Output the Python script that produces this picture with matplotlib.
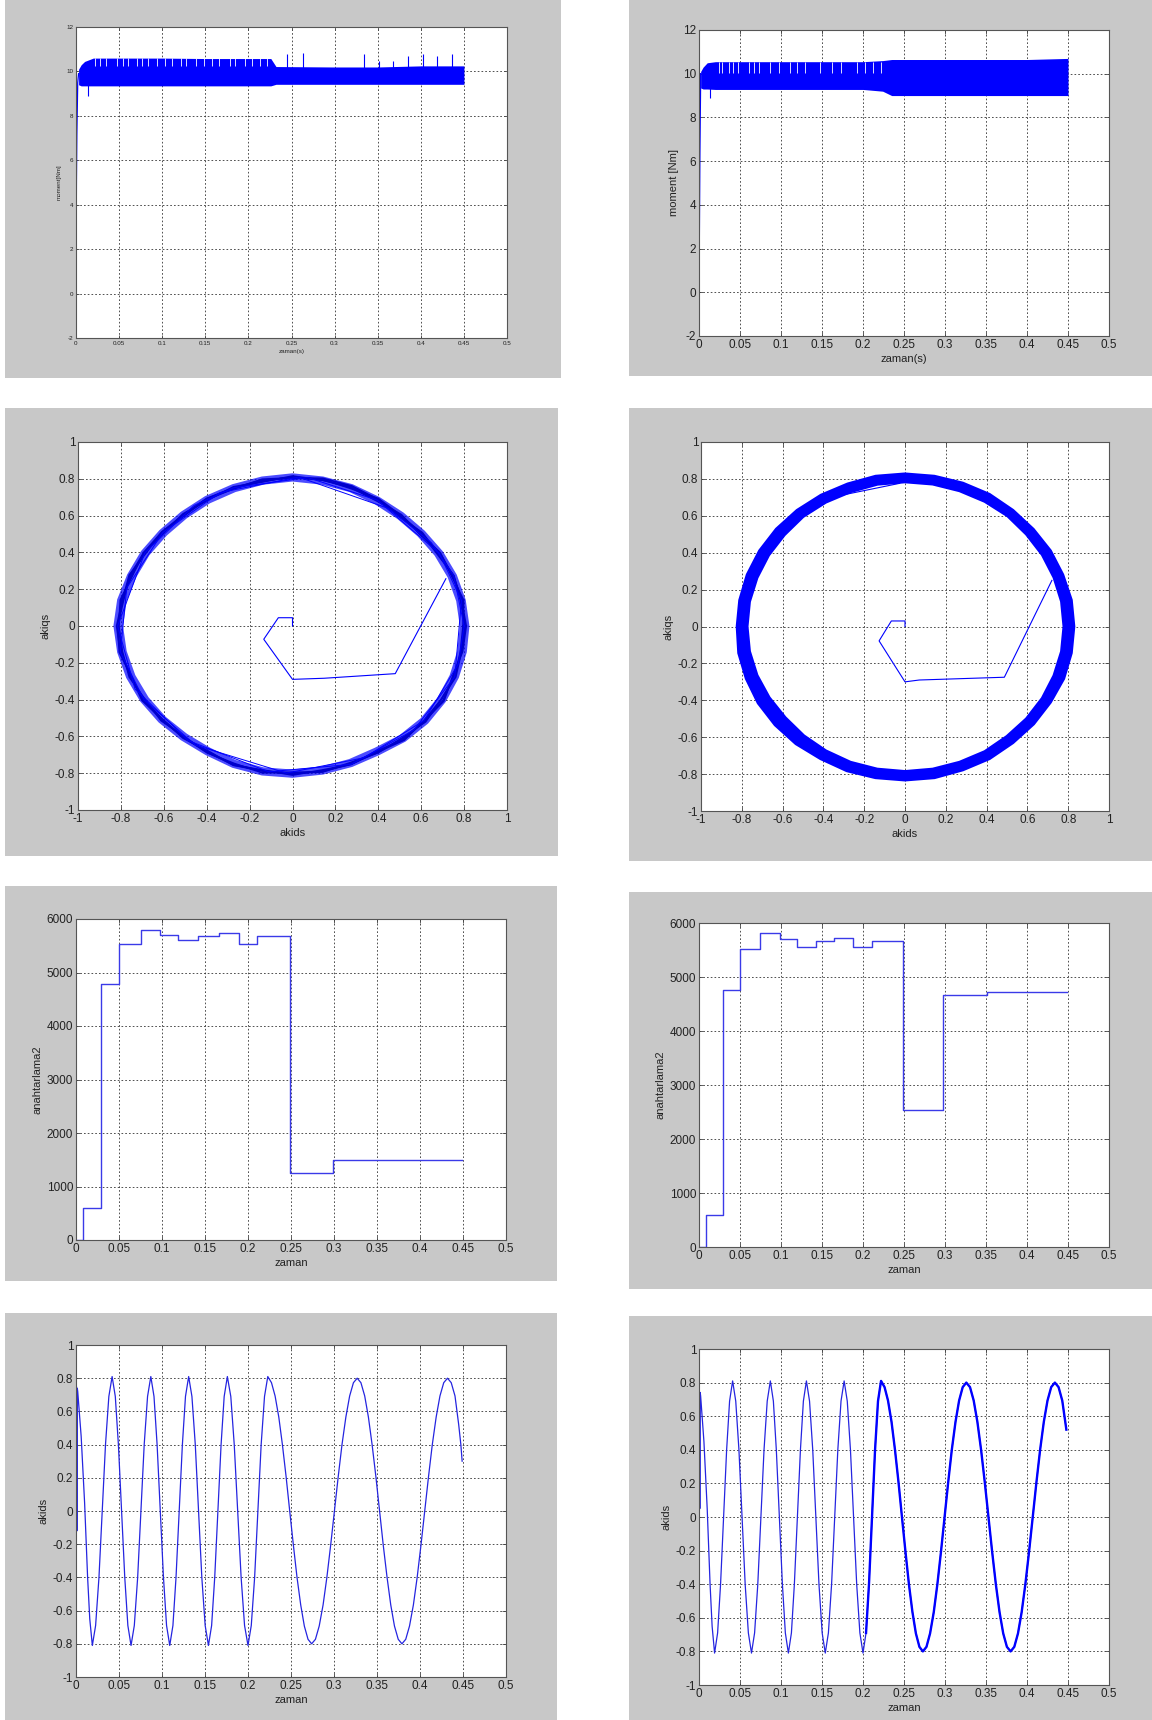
import numpy as np
import matplotlib.pyplot as plt
from matplotlib.patches import Rectangle

plt.rcParams['font.family'] = ['Liberation Sans Narrow', 'DejaVu Sans Condensed', 'Liberation Sans', 'DejaVu Sans']

BLUE = '#0000ff'
GREY = '#c8c8c8'
W, H = 1152, 1720

# ---------------- moment (torque) panels ----------------
# band envelope
tq1_t = [0.003, 0.006, 0.010, 0.020, 0.05, 0.10, 0.15, 0.20, 0.226, 0.232, 0.30, 0.35, 0.40, 0.45]
tq1_hi = [10.1, 10.3, 10.45, 10.6, 10.6, 10.6, 10.58, 10.58, 10.58, 10.22, 10.2, 10.2, 10.25, 10.25]
tq1_lo = [9.4, 9.35, 9.35, 9.35, 9.35, 9.35, 9.35, 9.35, 9.35, 9.42, 9.42, 9.42, 9.42, 9.42]
tq1_ramp_t = [0.0, 0.0005, 0.001, 0.002, 0.003]
tq1_ramp_y = [0.0, 5.0, 7.2, 9.5, 9.9]
tq1_spk_t = [0.245, 0.263, 0.334, 0.351, 0.368, 0.385, 0.402, 0.419, 0.436]
tq1_spk_y = [10.77, 10.85, 10.8, 10.46, 10.46, 10.7, 10.77, 10.7, 10.77]
tq1_dip_t = [0.014]
tq1_dip_y = [8.9]
tq1_notch_t = [0.022, 0.028, 0.035, 0.047, 0.054, 0.060, 0.071, 0.077, 0.084, 0.094, 0.103, 0.111,
               0.122, 0.128, 0.139, 0.149, 0.158, 0.166, 0.179, 0.185, 0.196, 0.204, 0.213, 0.221]

tq2_t = [0.002, 0.005, 0.010, 0.020, 0.10, 0.20, 0.224, 0.235, 0.30, 0.40, 0.45]
tq2_hi = [10.1, 10.3, 10.5, 10.55, 10.55, 10.55, 10.6, 10.65, 10.65, 10.65, 10.7]
tq2_lo = [9.35, 9.3, 9.3, 9.28, 9.28, 9.28, 9.2, 9.0, 9.0, 9.0, 9.0]
tq2_ramp_t = [0.0, 0.001, 0.002]
tq2_ramp_y = [0.3, 6.3, 10.0]
tq2_dip_t = [0.013]
tq2_dip_y = [8.9]
tq2_notch_t = [0.024, 0.028, 0.036, 0.042, 0.048, 0.061, 0.067, 0.073, 0.086, 0.098,
               0.111, 0.119, 0.129, 0.148, 0.162, 0.173, 0.193, 0.202, 0.212, 0.222]

# ---------------- flux circle panels ----------------
ring_ang = [0, 10, 20, 30, 40, 50, 60, 70, 80, 90, 100, 110, 120, 130, 140, 150, 160, 170,
            180, 190, 200, 210, 220, 230, 240, 250, 260, 270, 280, 290, 300, 310, 320, 330, 340, 350, 360]
ring1_out = [0.825, 0.82, 0.815, 0.81, 0.805, 0.805, 0.81, 0.82, 0.825, 0.83, 0.825, 0.82, 0.815, 0.81, 0.81, 0.815,
             0.82, 0.83, 0.835, 0.83, 0.825, 0.82, 0.815, 0.81, 0.81, 0.82, 0.825, 0.825, 0.82, 0.815, 0.81, 0.82,
             0.825, 0.825, 0.825, 0.825, 0.825]
ring1_in = [0.78, 0.775, 0.77, 0.765, 0.76, 0.76, 0.765, 0.775, 0.78, 0.785, 0.78, 0.775, 0.77, 0.765, 0.765, 0.77,
            0.775, 0.785, 0.79, 0.785, 0.78, 0.775, 0.77, 0.765, 0.765, 0.775, 0.78, 0.78, 0.775, 0.77, 0.765, 0.775,
            0.78, 0.78, 0.78, 0.78, 0.78]
ring1_r = [
    [0.81, 0.80, 0.80, 0.785, 0.79, 0.775, 0.795, 0.81, 0.815, 0.805, 0.81, 0.795, 0.80, 0.785, 0.795, 0.79, 0.81, 0.805,
     0.82, 0.815, 0.80, 0.81, 0.79, 0.795, 0.785, 0.805, 0.795, 0.81, 0.795, 0.80, 0.785, 0.805, 0.80, 0.815, 0.795, 0.805, 0.81],
    [0.795, 0.81, 0.79, 0.795, 0.775, 0.79, 0.785, 0.80, 0.805, 0.815, 0.795, 0.805, 0.79, 0.795, 0.785, 0.80, 0.795, 0.815,
     0.81, 0.805, 0.81, 0.795, 0.80, 0.785, 0.795, 0.795, 0.81, 0.795, 0.805, 0.79, 0.795, 0.795, 0.81, 0.80, 0.805, 0.795, 0.795],
    [0.805, 0.795, 0.80, 0.78, 0.785, 0.785, 0.80, 0.795, 0.81, 0.805, 0.805, 0.80, 0.80, 0.79, 0.795, 0.80, 0.805, 0.80,
     0.815, 0.82, 0.80, 0.805, 0.795, 0.79, 0.795, 0.80, 0.80, 0.805, 0.80, 0.80, 0.79, 0.81, 0.80, 0.80, 0.81, 0.80, 0.805],
    [0.80, 0.805, 0.795, 0.795, 0.78, 0.78, 0.79, 0.805, 0.805, 0.81, 0.80, 0.795, 0.795, 0.785, 0.79, 0.795, 0.80, 0.81,
     0.81, 0.81, 0.805, 0.80, 0.79, 0.79, 0.79, 0.805, 0.80, 0.80, 0.805, 0.795, 0.795, 0.80, 0.805, 0.81, 0.80, 0.80, 0.80],
]
# loops sampled coarsely (the straight chords)
ring1_sp_ang = [[0, 20, 35, 55, 88, 115, 140, 165, 190, 210, 235, 268, 295, 320, 345, 360],
                [10, 30, 60, 85, 110, 125, 150, 180, 205, 232, 262, 290, 315, 340, 370]]
ring1_sp_r = [[0.80, 0.80, 0.79, 0.78, 0.81, 0.80, 0.79, 0.80, 0.815, 0.80, 0.79, 0.80, 0.79, 0.80, 0.80, 0.80],
              [0.80, 0.79, 0.79, 0.81, 0.80, 0.80, 0.795, 0.815, 0.81, 0.79, 0.80, 0.80, 0.80, 0.805, 0.80]]
start1_x = [0.0, 0.0, -0.066, -0.134, 0.0, 0.147, 0.479, 0.715]
start1_y = [0.0, 0.045, 0.045, -0.072, -0.29, -0.284, -0.259, 0.257]

ring2_out = [0.835, 0.835, 0.83, 0.83, 0.828, 0.83, 0.835, 0.835, 0.835, 0.835, 0.835, 0.83, 0.83, 0.83, 0.83, 0.83,
             0.83, 0.83, 0.83, 0.835, 0.835, 0.838, 0.838, 0.838, 0.835, 0.84, 0.84, 0.84, 0.84, 0.835, 0.835, 0.83,
             0.83, 0.83, 0.835, 0.835, 0.835]
ring2_in = [0.772, 0.772, 0.77, 0.77, 0.77, 0.775, 0.775, 0.775, 0.776, 0.776, 0.775, 0.77, 0.77, 0.77, 0.765, 0.765,
            0.765, 0.767, 0.767, 0.767, 0.765, 0.762, 0.76, 0.765, 0.77, 0.775, 0.777, 0.778, 0.777, 0.775, 0.775, 0.77,
            0.77, 0.77, 0.77, 0.772, 0.772]
chord2_x = [-0.384, -0.026]
chord2_y = [0.695, 0.776]
start2_x = [0.0, 0.0, -0.067, -0.127, 0.0, 0.07, 0.487, 0.72]
start2_y = [0.0, 0.03, 0.03, -0.078, -0.30, -0.29, -0.275, 0.25]

# ---------------- switching (anahtarlama) panels ----------------
sw1_t = [0, 0.008, 0.029, 0.050, 0.076, 0.098, 0.119, 0.142, 0.166, 0.189, 0.210, 0.249, 0.299, 0.449]
sw1_v = [0, 600, 4780, 5530, 5800, 5700, 5600, 5680, 5730, 5530, 5680, 1250, 1500, 1500]
sw2_t = [0, 0.008, 0.029, 0.050, 0.074, 0.099, 0.120, 0.143, 0.165, 0.188, 0.211, 0.249, 0.298, 0.351, 0.449]
sw2_v = [0, 600, 4760, 5520, 5810, 5710, 5550, 5660, 5720, 5550, 5665, 2530, 4660, 4720, 4720]

# ---------------- akids vs time panels ----------------
akids1_t = [
    0.0, 0.0005, 0.001, 0.0015, 0.002, 0.006, 0.010, 0.0135, 0.016, 0.019,
    0.0228, 0.0267, 0.0305, 0.0343, 0.0382, 0.042,
    0.0457, 0.0493, 0.053, 0.0567, 0.0603, 0.064,
    0.0678, 0.0717, 0.0755, 0.0793, 0.0832, 0.087,
    0.0907, 0.0943, 0.098, 0.1017, 0.1053, 0.109,
    0.1127, 0.1163, 0.120, 0.1237, 0.1273, 0.131,
    0.1348, 0.1387, 0.1425, 0.1463, 0.1502, 0.154,
    0.1577, 0.1613, 0.165, 0.1687, 0.1723, 0.176,
    0.180, 0.184, 0.188, 0.192, 0.196, 0.200,
    0.2038, 0.2077, 0.2115, 0.2153, 0.2192, 0.223,
    0.2273, 0.2315, 0.2358, 0.240, 0.2443, 0.2485, 0.2528, 0.257, 0.2613, 0.2655, 0.2698, 0.274,
    0.2784, 0.2828, 0.2873, 0.2917, 0.2961, 0.3005, 0.3049, 0.3093, 0.3138, 0.3182, 0.3226, 0.327,
    0.3313, 0.3357, 0.340, 0.3443, 0.3487, 0.353, 0.3573, 0.3617, 0.366, 0.3703, 0.3747, 0.379,
    0.3834, 0.3878, 0.3923, 0.3967, 0.4011, 0.4055, 0.4099, 0.4143, 0.4188, 0.4232, 0.4276, 0.432,
    0.4363, 0.4407, 0.445, 0.4475, 0.449]
akids1_y = [
    0.0, 0.75, -0.12, 0.74, 0.72, 0.45, 0.05, -0.4, -0.65, -0.81,
    -0.69, -0.4, 0.0, 0.4, 0.69, 0.81,
    0.69, 0.4, 0.0, -0.4, -0.69, -0.81,
    -0.69, -0.4, 0.0, 0.4, 0.69, 0.81,
    0.69, 0.4, 0.0, -0.4, -0.69, -0.81,
    -0.69, -0.4, 0.0, 0.4, 0.69, 0.81,
    0.69, 0.4, 0.0, -0.4, -0.69, -0.81,
    -0.69, -0.4, 0.0, 0.4, 0.69, 0.81,
    0.69, 0.4, 0.0, -0.4, -0.69, -0.81,
    -0.69, -0.4, 0.0, 0.4, 0.69, 0.81,
    0.773, 0.693, 0.566, 0.4, 0.207, 0.0, -0.207, -0.4, -0.566, -0.693, -0.773, -0.80,
    -0.773, -0.693, -0.566, -0.4, -0.207, 0.0, 0.207, 0.4, 0.566, 0.693, 0.773, 0.80,
    0.773, 0.693, 0.566, 0.4, 0.207, 0.0, -0.207, -0.4, -0.566, -0.693, -0.773, -0.80,
    -0.773, -0.693, -0.566, -0.4, -0.207, 0.0, 0.207, 0.4, 0.566, 0.693, 0.773, 0.80,
    0.773, 0.693, 0.52, 0.40, 0.30]

akids2_t = [
    0.0, 0.0005, 0.001, 0.0015, 0.002, 0.006, 0.010, 0.0135, 0.016, 0.019,
    0.0227, 0.0263, 0.030, 0.0337, 0.0373, 0.041,
    0.0448, 0.0487, 0.0525, 0.0563, 0.0602, 0.064,
    0.0678, 0.0717, 0.0755, 0.0793, 0.0832, 0.087,
    0.0907, 0.0943, 0.098, 0.1017, 0.1053, 0.109,
    0.1127, 0.1163, 0.120, 0.1237, 0.1273, 0.131,
    0.1348, 0.1387, 0.1425, 0.1463, 0.1502, 0.154,
    0.1578, 0.1617, 0.1655, 0.1693, 0.1732, 0.177,
    0.1808, 0.1847, 0.1885, 0.1923, 0.1962, 0.200,
    0.2037, 0.2073, 0.211, 0.2147, 0.2183, 0.222,
    0.2263, 0.2305, 0.2348, 0.239, 0.2433, 0.2475, 0.2518, 0.256, 0.2603, 0.2645, 0.2688, 0.273,
    0.2774, 0.2818, 0.2863, 0.2907, 0.2951, 0.2995, 0.3039, 0.3083, 0.3128, 0.3172, 0.3216, 0.326,
    0.3305, 0.335, 0.3395, 0.344, 0.3485, 0.353, 0.3575, 0.362, 0.3665, 0.371, 0.3755, 0.380,
    0.3845, 0.389, 0.3935, 0.398, 0.4025, 0.407, 0.4115, 0.416, 0.4205, 0.425, 0.4295, 0.434,
    0.4385, 0.443, 0.448]
akids2_y = [
    0.0, 0.75, 0.05, 0.74, 0.72, 0.45, 0.05, -0.4, -0.65, -0.81,
    -0.69, -0.4, 0.0, 0.4, 0.69, 0.81,
    0.69, 0.4, 0.0, -0.4, -0.69, -0.81,
    -0.69, -0.4, 0.0, 0.4, 0.69, 0.81,
    0.69, 0.4, 0.0, -0.4, -0.69, -0.81,
    -0.69, -0.4, 0.0, 0.4, 0.69, 0.81,
    0.69, 0.4, 0.0, -0.4, -0.69, -0.81,
    -0.69, -0.4, 0.0, 0.4, 0.69, 0.81,
    0.69, 0.4, 0.0, -0.4, -0.69, -0.81,
    -0.69, -0.4, 0.0, 0.4, 0.69, 0.81,
    0.773, 0.693, 0.566, 0.4, 0.207, 0.0, -0.207, -0.4, -0.566, -0.693, -0.773, -0.80,
    -0.773, -0.693, -0.566, -0.4, -0.207, 0.0, 0.207, 0.4, 0.566, 0.693, 0.773, 0.80,
    0.773, 0.693, 0.566, 0.4, 0.207, 0.0, -0.207, -0.4, -0.566, -0.693, -0.773, -0.80,
    -0.773, -0.693, -0.566, -0.4, -0.207, 0.0, 0.207, 0.4, 0.566, 0.693, 0.773, 0.80,
    0.773, 0.693, 0.52]

t_ticks = [0, 0.05, 0.1, 0.15, 0.2, 0.25, 0.3, 0.35, 0.4, 0.45, 0.5]
m_ticks = [-2, 0, 2, 4, 6, 8, 10, 12]
u_ticks = [-1, -0.8, -0.6, -0.4, -0.2, 0, 0.2, 0.4, 0.6, 0.8, 1]
s_ticks = [0, 1000, 2000, 3000, 4000, 5000, 6000]

fig = plt.figure(figsize=(W / 100, H / 100), dpi=100)


def panel(grey_box, ax_box):
    x0, y0, x1, y1 = grey_box
    fig.add_artist(Rectangle((x0 / W, 1 - y1 / H), (x1 - x0) / W, (y1 - y0) / H,
                             transform=fig.transFigure, facecolor=GREY, edgecolor='none', zorder=0))
    a0, b0, a1, b1 = ax_box
    return fig.add_axes([a0 / W, 1 - b1 / H, (a1 - a0) / W, (b1 - b0) / H])


def style(ax, xt, yt, xlabel, ylabel, fs, lfs, tl=3):
    ax.set_xlim(xt[0], xt[-1])
    ax.set_ylim(yt[0], yt[-1])
    ax.set_xticks(xt)
    ax.set_yticks(yt)
    ax.set_xticklabels(['%g' % v for v in xt], fontsize=fs)
    ax.set_yticklabels(['%g' % v for v in yt], fontsize=fs)
    ax.set_axisbelow(True)
    ax.grid(True, color='#333333', linestyle=(0, (2, 2.5)), linewidth=0.6)
    ax.tick_params(direction='in', top=True, right=True, length=tl, width=0.6,
                   colors='#444444', labelcolor='#222222', pad=2)
    for s in ax.spines.values():
        s.set_color('#555555')
        s.set_linewidth(0.8)
    ax.set_xlabel(xlabel, fontsize=lfs, labelpad=2, color='#222222')
    ax.set_ylabel(ylabel, fontsize=lfs, labelpad=3, color='#222222')


# 1: moment, left
ax = panel((5, 0, 561, 378), (76, 27, 507, 338))
ax.fill_between(tq1_t, tq1_lo, tq1_hi, color=BLUE, lw=0)
ax.vlines(tq1_notch_t, 10.25, 10.6, color='white', lw=0.6)
ax.plot(tq1_ramp_t, tq1_ramp_y, color=BLUE, lw=0.9)
ax.vlines(tq1_spk_t, 10.0, tq1_spk_y, color=BLUE, lw=0.8)
ax.vlines(tq1_dip_t, tq1_dip_y, 9.6, color=BLUE, lw=0.8)
style(ax, t_ticks, m_ticks, 'zaman(s)', 'moment[Nm]', 4.5, 4.5, tl=2)

# 2: moment, right
ax = panel((629, 0, 1152, 376), (699, 30, 1109, 336))
ax.fill_between(tq2_t, tq2_lo, tq2_hi, color=BLUE, lw=0)
ax.vlines(tq2_notch_t, 10.05, 10.55, color='white', lw=0.6)
ax.plot(tq2_ramp_t, tq2_ramp_y, color=BLUE, lw=1.0)
ax.vlines(tq2_dip_t, tq2_dip_y, 9.5, color=BLUE, lw=0.8)
style(ax, t_ticks, m_ticks, 'zaman(s)', 'moment [Nm]', 8.5, 8)

# 3: flux circle, left
ax = panel((5, 408, 558, 856), (78, 442, 507, 810))
ax.plot(start1_x, start1_y, color=BLUE, lw=0.8)
ang = np.deg2rad(ring_ang)
r_o = np.array(ring1_out)
r_i = np.array(ring1_in)
ax.fill(np.concatenate([r_o * np.cos(ang), (r_i * np.cos(ang))[::-1]]),
        np.concatenate([r_o * np.sin(ang), (r_i * np.sin(ang))[::-1]]),
        color=BLUE, alpha=0.7, lw=0)
for r in ring1_r:
    r = np.array(r)
    ax.plot(r * np.cos(ang), r * np.sin(ang), color='#0000cc', lw=1.2)
for a, r in zip(ring1_sp_ang, ring1_sp_r):
    a = np.deg2rad(a)
    r = np.array(r)
    ax.plot(r * np.cos(a), r * np.sin(a), color=BLUE, lw=0.7)
style(ax, u_ticks, u_ticks, 'akids', 'akiqs', 8.5, 8)

# 4: flux circle, right
ax = panel((629, 408, 1152, 861), (701, 442, 1109, 811))
ax.plot(start2_x, start2_y, color=BLUE, lw=0.8)
ro = np.array(ring2_out)
ri = np.array(ring2_in)
xs = np.concatenate([ro * np.cos(ang), (ri * np.cos(ang))[::-1]])
ys = np.concatenate([ro * np.sin(ang), (ri * np.sin(ang))[::-1]])
ax.fill(xs, ys, color=BLUE, lw=0)
ax.plot(chord2_x, chord2_y, color=BLUE, lw=0.8)
style(ax, u_ticks, u_ticks, 'akids', 'akiqs', 8.5, 8)

# 5: switching, left
ax = panel((5, 886, 557, 1281), (76, 919, 506, 1240))
ax.step(sw1_t, sw1_v, where='post', color='#3a3ae8', lw=1.0)
style(ax, t_ticks, s_ticks, 'zaman', 'anahtarlama2', 8.5, 8)

# 6: switching, right
ax = panel((629, 892, 1152, 1289), (699, 923, 1109, 1247))
ax.step(sw2_t, sw2_v, where='post', color='#3a3ae8', lw=1.0)
style(ax, t_ticks, s_ticks, 'zaman', 'anahtarlama2', 8.5, 8)

# 7: akids vs time, left
ax = panel((5, 1313, 557, 1720), (76, 1345, 506, 1677))
ax.plot(akids1_t, akids1_y, color='#2525e0', lw=0.9)
style(ax, t_ticks, u_ticks, 'zaman', 'akids', 8.5, 8)

# 8: akids vs time, right
ax = panel((629, 1316, 1152, 1720), (699, 1349, 1109, 1685))
ax.plot(akids2_t, akids2_y, color='#2525e0', lw=0.9)
k = akids2_t.index(0.2037)
ax.plot(akids2_t[k:], akids2_y[k:], color=BLUE, lw=1.7)
style(ax, t_ticks, u_ticks, 'zaman', 'akids', 8.5, 8)

fig.savefig('out.png', dpi=100, facecolor='white')
